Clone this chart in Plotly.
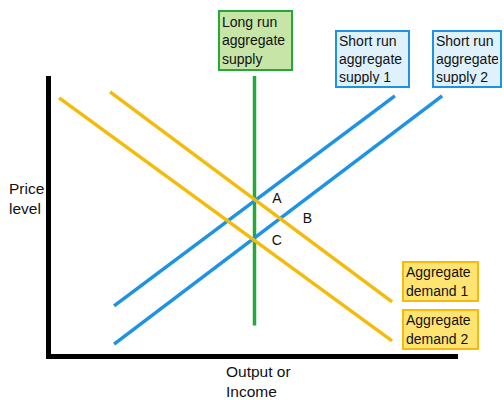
import plotly.graph_objects as go

# curve endpoints (output, price) in chart units
lras_x = [5.0, 5.0]
lras_y = [0.72, 7.0]
sras1_x = [1.55, 8.45]
sras1_y = [1.21, 6.50]
sras2_x = [1.55, 9.61]
sras2_y = [0.25, 6.50]
ad1_x = [1.45, 8.38]
ad1_y = [6.60, 1.31]
ad2_x = [0.20, 8.38]
ad2_y = [6.45, 0.33]

point_labels = ["A", "B", "C"]
point_x = [5.55, 6.3, 5.55]
point_y = [3.9, 3.39, 2.84]

GREEN = "#25a83a"
BLUE = "#1e93e3"
YELLOW = "#f4bb0c"
FONT = "Liberation Sans, Arial, sans-serif"

W, H = 504, 400
L, R, T, B = 51, 46, 76, 46


def px(x):
    return (x - L) / (W - L - R)


def py(y):
    return (H - B - y) / (H - T - B)


fig = go.Figure()
for xs, ys, c in [(lras_x, lras_y, GREEN), (sras1_x, sras1_y, BLUE), (sras2_x, sras2_y, BLUE),
                  (ad1_x, ad1_y, YELLOW), (ad2_x, ad2_y, YELLOW)]:
    fig.add_trace(go.Scatter(x=xs, y=ys, mode="lines", line=dict(color=c, width=3.5),
                             hoverinfo="skip", showlegend=False))

fig.add_trace(go.Scatter(x=point_x, y=point_y, mode="text", text=point_labels,
                         textfont=dict(family=FONT, size=14, color="#111"),
                         hoverinfo="skip", showlegend=False))


def box(text, x0, y0, w, h, fill, border):
    fig.add_annotation(xref="paper", yref="paper", x=px(x0), y=py(y0), xanchor="left", yanchor="top",
                       text=text, showarrow=False, align="left", valign="middle",
                       width=w, height=h, bgcolor=fill, bordercolor=border, borderwidth=2, borderpad=2,
                       font=dict(family=FONT, size=14, color="#111"))


box("Long run<br>aggregate<br>supply", 218, 10, 67, 53, "#c6e5a6", GREEN)
box("Short run<br>aggregate<br>supply 1", 335, 30, 67, 50, "#dff1fc", BLUE)
box("Short run<br>aggregate<br>supply 2", 432, 30, 62, 50, "#dff1fc", BLUE)
box("Aggregate<br>demand 1", 402, 261, 69, 33, "#ffe472", YELLOW)
box("Aggregate<br>demand 2", 402, 309, 69, 33, "#ffe472", YELLOW)

fig.add_annotation(xref="paper", yref="paper", x=px(7), y=py(178), xanchor="left", yanchor="top",
                   text="Price<br>level", showarrow=False, align="left",
                   font=dict(family=FONT, size=15.5, color="#111"))
fig.add_annotation(xref="paper", yref="paper", x=px(224), y=py(361), xanchor="left", yanchor="top",
                   text="Output or<br>Income", showarrow=False, align="left",
                   font=dict(family=FONT, size=15.5, color="#111"))

fig.update_xaxes(range=[0, 10], showgrid=False, zeroline=False, showticklabels=False, ticks="",
                 showline=True, linecolor="black", linewidth=5, fixedrange=True)
fig.update_yaxes(range=[0, 7], showgrid=False, zeroline=False, showticklabels=False, ticks="",
                 showline=True, linecolor="black", linewidth=5, fixedrange=True)
fig.update_layout(width=W, height=H, margin=dict(l=L, r=R, t=T, b=B),
                  paper_bgcolor="white", plot_bgcolor="white")
fig.write_html("out.html", config={"displayModeBar": False},
               post_script="document.body.style.margin='0';")
